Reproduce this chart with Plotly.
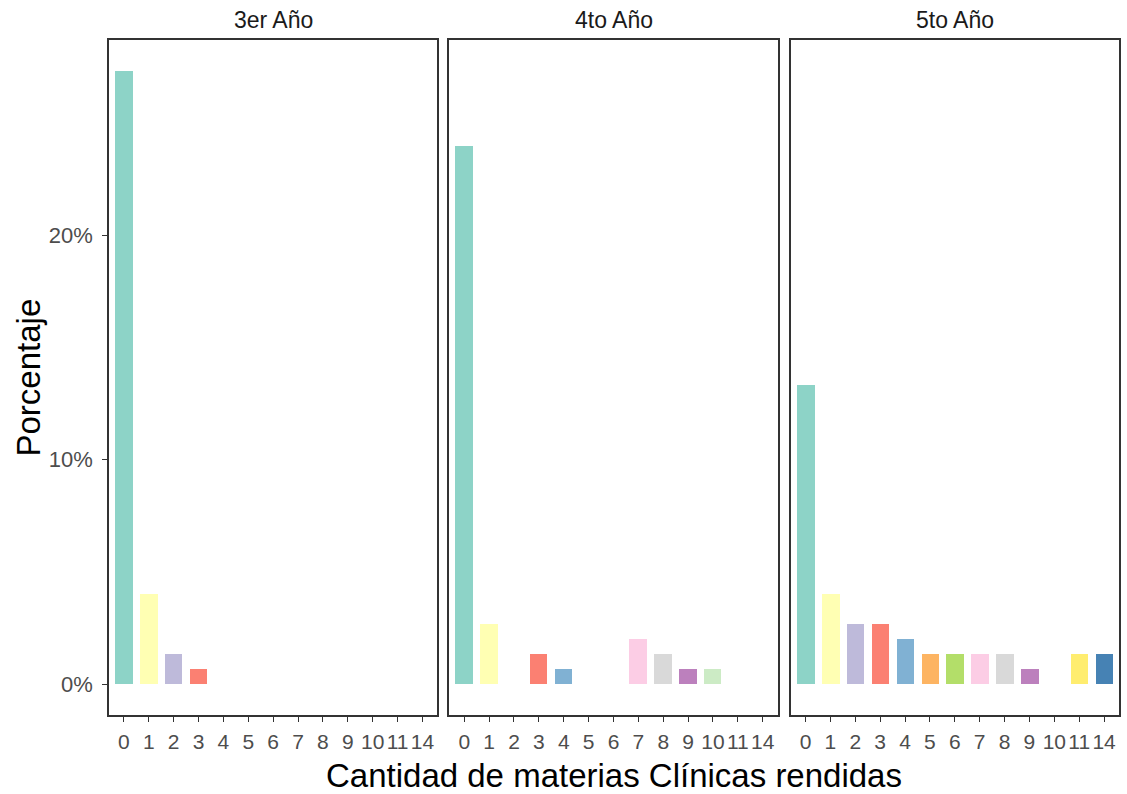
import plotly.graph_objects as go

# Number of clinical subjects passed (x categories)
categorias = ["0", "1", "2", "3", "4", "5", "6", "7", "8", "9", "10", "11", "14"]

# Percentage of all students, by academic year
anio_3 = [27.33, 4.00, 1.33, 0.67, 0, 0, 0, 0, 0, 0, 0, 0, 0]
anio_4 = [24.00, 2.67, 0, 1.33, 0.67, 0, 0, 2.00, 1.33, 0.67, 0.67, 0, 0]
anio_5 = [13.33, 4.00, 2.67, 2.67, 2.00, 1.33, 1.33, 1.33, 1.33, 0.67, 0, 1.33, 1.33]

paneles = ["3er Año", "4to Año", "5to Año"]
series = [anio_3, anio_4, anio_5]

colores = ["#8DD3C7", "#FFFFB3", "#BEBADA", "#FB8072", "#80B1D3", "#FDB462",
           "#B3DE69", "#FCCDE5", "#D9D9D9", "#BC80BD", "#CCEBC5", "#FFED6F",
           "#4682B4"]

FUENTE = "Liberation Sans, Arial, sans-serif"
W, H = 1127, 794
left, right, top, bottom = 109, 6, 40, 79
plot_w = W - left - right
px_edges = [(109, 438), (450, 779), (792, 1121)]
dominios = [((a - left) / plot_w, (b - left) / plot_w) for a, b in px_edges]

fig = go.Figure()
for i, (nombre, vals) in enumerate(zip(paneles, series)):
    sfx = "" if i == 0 else str(i + 1)
    fig.add_trace(go.Bar(
        x=categorias, y=vals,
        marker=dict(color=colores, line=dict(width=0)),
        width=0.7,
        xaxis="x" + sfx, yaxis="y" + sfx,
        showlegend=False,
        hovertemplate="%{x}: %{y:.1f}%<extra>" + nombre + "</extra>",
    ))

eje_x = dict(
    type="category", categoryorder="array", categoryarray=categorias,
    tickmode="array", tickvals=categorias, ticktext=categorias,
    range=[-0.6, 12.6], showgrid=False, zeroline=False,
    showline=True, linecolor="#333333", linewidth=1.5, mirror=True,
    ticks="outside", ticklen=5, tickwidth=1.2, tickcolor="#333333",
    tickangle=0, ticklabelstandoff=2,
    tickfont=dict(family=FUENTE, size=21, color="#4D4D4D"),
)
eje_y = dict(
    range=[-1.37, 28.7], showgrid=False, zeroline=False,
    showline=True, linecolor="#333333", linewidth=1.5, mirror=True,
)

layout = dict(
    width=W, height=H,
    margin=dict(l=left, r=right, t=top, b=bottom),
    plot_bgcolor="white", paper_bgcolor="white",
    bargap=0,
)
for i, dom in enumerate(dominios):
    sfx = "" if i == 0 else str(i + 1)
    ax = dict(eje_x, domain=list(dom), anchor="y" + sfx)
    ay = dict(eje_y, domain=[0, 1], anchor="x" + sfx)
    if i == 0:
        ay.update(tickvals=[0, 10, 20], ticktext=["0%", "10%", "20%"],
                  ticks="outside", ticklen=5, tickwidth=1.2, tickcolor="#333333",
                  ticklabelstandoff=5,
                  tickfont=dict(family=FUENTE, size=22, color="#4D4D4D"))
    else:
        ay.update(showticklabels=False, ticks="")
        ay["matches"] = "y"
    layout["xaxis" + sfx] = ax
    layout["yaxis" + sfx] = ay

anot = []
for (a, b), nombre in zip(px_edges, paneles):
    anot.append(dict(
        text=nombre, x=((a + b) / 2 - left) / plot_w, y=1, xref="paper", yref="paper",
        xanchor="center", yanchor="middle", yshift=20, showarrow=False,
        font=dict(family=FUENTE, size=23, color="#1A1A1A"),
    ))
anot.append(dict(
    text="Cantidad de materias Clínicas rendidas", x=0.5, y=0, xref="paper", yref="paper",
    xanchor="center", yanchor="middle", yshift=-60, showarrow=False,
    font=dict(family=FUENTE, size=33, color="black"),
))
anot.append(dict(
    text="Porcentaje", x=0, y=0.5, xref="paper", yref="paper", textangle=-90,
    xanchor="center", yanchor="middle", xshift=-81, showarrow=False,
    font=dict(family=FUENTE, size=33, color="black"),
))
layout["annotations"] = anot

fig.update_layout(**layout)
fig.write_html("out.html")
